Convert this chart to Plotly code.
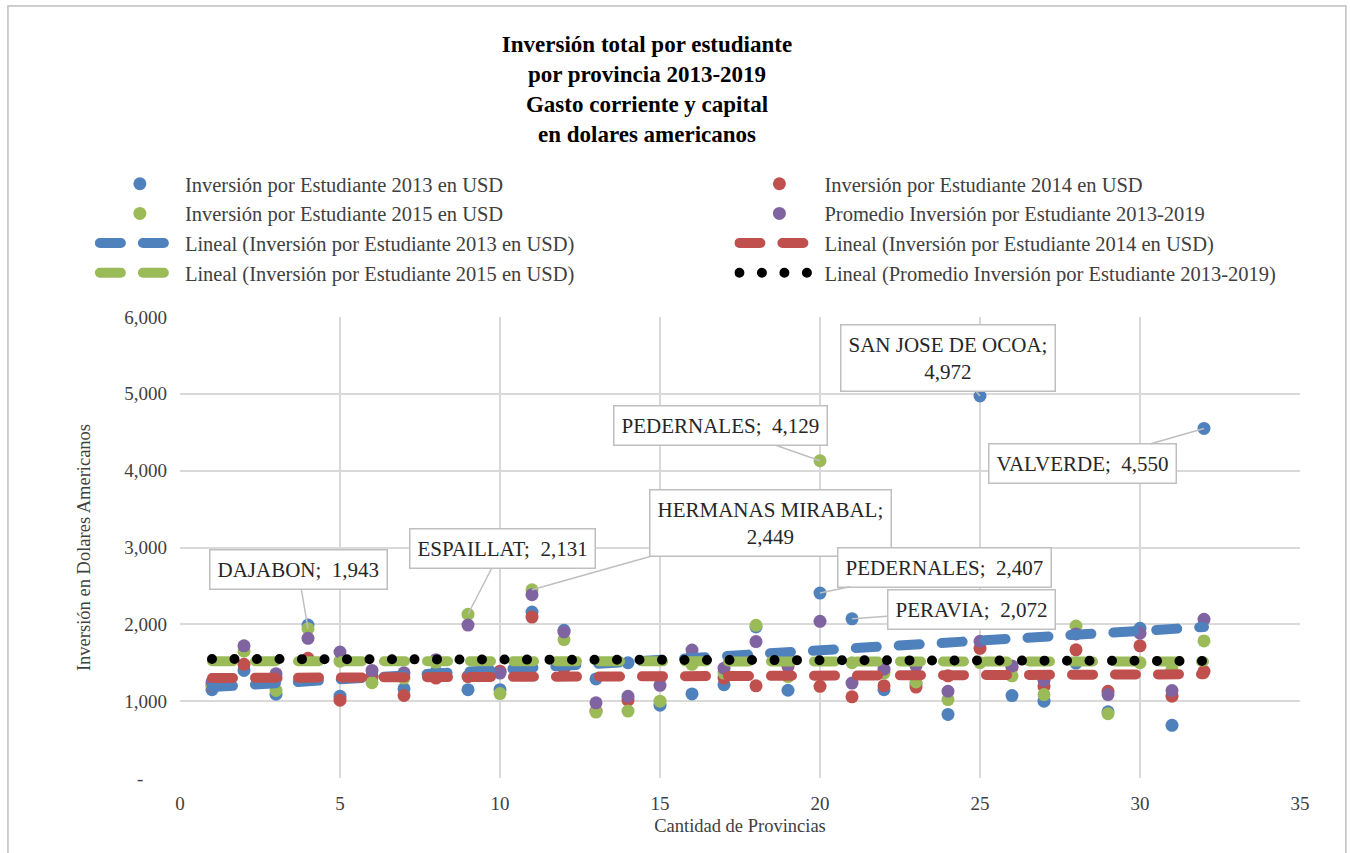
import numpy as np
import plotly.graph_objects as go

# provincias 1..32
provincias = list(range(1, 33))

inv_2013 = [1150, 1400, 1090, 1990, 1065, 1330, 1160, 1380, 1150, 1150, 2159, 1923,
            1290, 1500, 948, 1094, 1215, 1966, 1142, 2407, 2072, 1150, 1230, 827,
            4972, 1073, 1000, 1496, 862, 1948, 685, 4550]
inv_2014 = [1200, 1480, 1300, 1557, 1013, 1310, 1074, 1300, 1320, 1390, 2094, 1430,
            871, 1013, 1300, 1580, 1300, 1200, 1450, 1193, 1056, 1202, 1184, 1330,
            1688, 1438, 1193, 1668, 1129, 1720, 1065, 1388]
inv_2015 = [1220, 1650, 1140, 1943, 1520, 1240, 1300, 1500, 2131, 1099, 2449, 1802,
            858, 871, 1000, 1480, 1365, 1987, 1320, 4129, 1500, 1365, 1250, 1021,
            1500, 1330, 1086, 1978, 836, 1500, 1420, 1784]
promedio = [1250, 1720, 1357, 1818, 1640, 1400, 1370, 1540, 1990, 1365, 2386, 1900,
            979, 1064, 1206, 1665, 1429, 1776, 1470, 2039, 1236, 1416, 1459, 1129,
            1780, 1459, 1270, 1875, 1086, 1884, 1138, 2065]

series_names = ["Inversión por Estudiante 2013 en USD", "Inversión por Estudiante 2014 en USD",
                "Inversión por Estudiante 2015 en USD", "Promedio Inversión por Estudiante 2013-2019"]
y_ticks = [0, 1000, 2000, 3000, 4000, 5000, 6000]
y_ticktext = ["-" + "\u00a0" * 5, "1,000", "2,000", "3,000", "4,000", "5,000", "6,000"]

# (province label, series index, province number, box offset px)
callouts = [
    ("DAJABON", 2, 4, (-10, -59)),
    ("ESPAILLAT", 2, 9, (34, -66)),
    ("HERMANAS MIRABAL;<br>", 2, 11, (238, -67)),
    ("PEDERNALES", 2, 20, (-100, -35)),
    ("SAN JOSE DE OCOA;<br>", 0, 25, (-32, -38)),
    ("VALVERDE", 0, 32, (-122, 35)),
    ("PEDERNALES", 0, 20, (124, -26)),
    ("PERAVIA", 0, 21, (119, -9)),
]

COLORS = ["#4f81bd", "#c0504d", "#9bbb59", "#8064a2"]
LEGEND_OF = ["legend", "legend2", "legend", "legend2"]  # two legend columns
FONT = "Liberation Serif"

data = [inv_2013, inv_2014, inv_2015, promedio]
fig = go.Figure()
for name, vals, col, lg in zip(series_names, data, COLORS, LEGEND_OF):
    fig.add_trace(go.Scatter(x=provincias, y=vals, mode="markers", name=name, legend=lg,
                             marker=dict(color=col, size=13, line=dict(width=0))))

trend_colors = COLORS[:3] + ["#000000"]
trend_dash = ["21px,22px"] * 3 + ["0px,22.5px"]
x = np.array(provincias, dtype=float)
xe = np.array([x.min(), x.max()])
for name, vals, col, dash, lg in zip(series_names, data, trend_colors, trend_dash, LEGEND_OF):
    m, b = np.polyfit(x, np.array(vals, dtype=float), 1)
    fig.add_trace(go.Scatter(x=xe, y=m * xe + b, mode="lines", name=f"Lineal ({name})",
                             legend=lg, hoverinfo="skip",
                             line=dict(color=col, width=10, dash=dash)))

for label, si, prov, (ax, ay) in callouts:
    val = data[si][prov - 1]
    if label.endswith("<br>"):
        text = f"{label}{val:,.0f}"
    else:
        text = f"{label};\u00a0 {val:,.0f}"
    fig.add_annotation(x=prov, y=val, text=text, showarrow=True, arrowhead=0,
                       arrowwidth=1.5, arrowcolor="#bfbfbf", ax=ax, ay=ay,
                       bordercolor="#bfbfbf", borderwidth=1.5, borderpad=7,
                       bgcolor="white", font=dict(family=FONT, size=21, color="#262626"))

# chart frame
fig.add_shape(type="rect", xref="paper", yref="paper", x0=-0.1536, x1=1.041,
              y0=-0.18, y1=1.6746, line=dict(color="#bfbfbf", width=1.5), layer="below")

legend_style = dict(orientation="v", yanchor="top", xanchor="left", itemwidth=80,
                    tracegroupgap=0, font=dict(family=FONT, size=20.5, color="#404040"))

fig.update_layout(
    width=1350, height=853,
    margin=dict(l=180, r=50, t=317, b=75),
    paper_bgcolor="white", plot_bgcolor="white",
    font=dict(family=FONT, size=19, color="#404040"),
    title=dict(text="<b>Inversión total por estudiante<br>por provincia 2013-2019<br>"
                    "Gasto corriente y capital<br>en dolares americanos</b>",
               x=647 / 1350, xref="container", xanchor="center",
               y=1 - 52 / 853, yref="container", yanchor="top",
               font=dict(family=FONT, size=23, color="#000000")),
    legend=dict(x=-0.076, y=1.332, **legend_style),
    legend2=dict(x=0.495, y=1.332, **legend_style),
    xaxis=dict(range=[0, 35], dtick=5, showgrid=True, gridcolor="#d9d9d9", gridwidth=1.5,
               zeroline=False, ticks="", ticklabelstandoff=12, automargin=False,
               title=dict(text="Cantidad de Provincias", standoff=6, font=dict(size=18.5))),
    yaxis=dict(range=[0, 6000], tickvals=y_ticks, ticktext=y_ticktext, showgrid=True,
               gridcolor="#d9d9d9", gridwidth=1.5, zeroline=False, ticks="",
               ticklabelstandoff=12, automargin=False,
               title=dict(text="Inversión en Dolares Americanos", standoff=28,
                          font=dict(size=18.5))),
)

post = ("document.body.style.margin='0';"
        "var s=document.createElement('style');"
        "s.innerHTML='.js-line{stroke-linecap:round}';document.head.appendChild(s);")
fig.write_html("out.html", post_script=post, config={"displayModeBar": False})
